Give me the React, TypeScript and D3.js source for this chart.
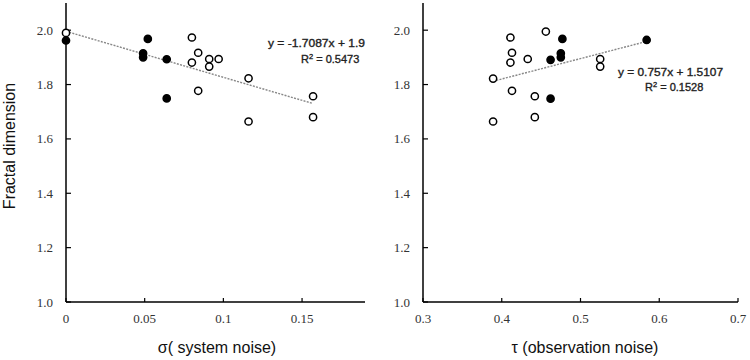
import React from "react";
import * as d3 from "d3";

// Fractal dimension of each run against the two noise parameters.
// Filled markers and open markers are the two groups of runs.
const sigmaX = [0, 0, 0.052, 0.049, 0.049, 0.064, 0.064, 0.08, 0.084, 0.08, 0.091, 0.097, 0.091, 0.084, 0.116, 0.116, 0.157, 0.157];
const sigmaY = [1.99, 1.962, 1.968, 1.915, 1.9, 1.893, 1.749, 1.973, 1.917, 1.881, 1.894, 1.894, 1.866, 1.777, 1.823, 1.664, 1.757, 1.68];
const sigmaFilled = [false, true, true, true, true, true, true, false, false, false, false, false, false, false, false, false, false, false];

const tauX = [0.389, 0.389, 0.411, 0.413, 0.411, 0.433, 0.413, 0.442, 0.442, 0.456, 0.462, 0.462, 0.477, 0.475, 0.475, 0.525, 0.525, 0.584];
const tauY = [1.822, 1.664, 1.973, 1.917, 1.881, 1.894, 1.777, 1.757, 1.68, 1.995, 1.891, 1.748, 1.968, 1.915, 1.9, 1.894, 1.866, 1.964];
const tauFilled = [false, false, false, false, false, false, false, false, false, false, true, true, true, true, true, false, false, true];

const yTicks = [1.0, 1.2, 1.4, 1.6, 1.8, 2.0];
const sigmaTicks = [0, 0.05, 0.1, 0.15];
const tauTicks = [0.3, 0.4, 0.5, 0.6, 0.7];

const sigmaEquation = "y = -1.7087x + 1.9";
const sigmaR2 = "0.5473";
const tauEquation = "y = 0.757x + 1.5107";
const tauR2 = "0.1528";

const yTitle = "Fractal dimension";
const sigmaTitle = "σ( system noise)";
const tauTitle = "τ (observation noise)";

const W = 750;
const H = 360;
const yScale = d3.scaleLinear().domain([1.0, 2.1]).range([302, 3]);

const tickFont = "'Liberation Serif', 'Times New Roman', serif";
const sansFont = "'Liberation Sans', Arial, sans-serif";

function fit(xs: number[], ys: number[]) {
  const mx = d3.mean(xs)!;
  const my = d3.mean(ys)!;
  let sxy = 0;
  let sxx = 0;
  xs.forEach((x, i) => {
    sxy += (x - mx) * (ys[i] - my);
    sxx += (x - mx) * (x - mx);
  });
  const slope = sxy / sxx;
  return { slope, intercept: my - slope * mx };
}

type PanelProps = {
  xs: number[];
  ys: number[];
  filled: boolean[];
  xDomain: [number, number];
  xRange: [number, number];
  xTicks: number[];
  tickFmt: (v: number) => string;
  title: string;
  titleX: number;
  eq: string;
  r2: string;
  eqPos: { x1: number; y1: number; w1: number; x2: number; y2: number };
};

function Panel(p: PanelProps) {
  const x = d3.scaleLinear().domain(p.xDomain).range(p.xRange);
  const x0 = p.xRange[0];
  const { slope, intercept } = fit(p.xs, p.ys);
  const [minX, maxX] = d3.extent(p.xs) as [number, number];
  const trend = d3.line<number>()
    .x((v) => x(v))
    .y((v) => yScale(intercept + slope * v))([minX, maxX]);
  const yBase = yScale(1.0);
  return (
    <g>
      {/* axes */}
      <line x1={x0} x2={x0} y1={3} y2={yBase} stroke="#000" strokeWidth={1.5} />
      <line x1={x0} x2={p.xRange[1]} y1={yBase} y2={yBase} stroke="#000" strokeWidth={1.5} />
      {yTicks.map((t) => (
        <g key={"y" + t}>
          <line x1={x0} x2={x0 + 5} y1={yScale(t)} y2={yScale(t)} stroke="#000" strokeWidth={1.2} />
          <text x={x0 - 13} y={yScale(t) + 4.5} textAnchor="end" fontFamily={tickFont} fontSize={13} fill="#333">
            {t.toFixed(1)}
          </text>
        </g>
      ))}
      {p.xTicks.map((t) => (
        <g key={"x" + t}>
          <line x1={x(t)} x2={x(t)} y1={yBase} y2={yBase - 4} stroke="#000" strokeWidth={1.2} />
          <text x={x(t)} y={yBase + 21} textAnchor="middle" fontFamily={tickFont} fontSize={13} fill="#333">
            {p.tickFmt(t)}
          </text>
        </g>
      ))}
      {/* linear trend line */}
      <path d={trend ?? ""} stroke="#888" strokeWidth={1.4} strokeDasharray="2,1.3" fill="none" />
      {/* runs */}
      {p.xs.map((v, i) => (
        <circle
          key={i}
          cx={x(v)}
          cy={yScale(p.ys[i])}
          r={3.6}
          fill={p.filled[i] ? "#000" : "#fff"}
          stroke="#000"
          strokeWidth={1.5}
        />
      ))}
      {/* trend equation */}
      <text x={p.eqPos.x1} y={p.eqPos.y1} fontFamily={sansFont} fontSize={11} fill="#222"
        stroke="#222" strokeWidth={0.35}
        textLength={p.eqPos.w1} lengthAdjust="spacingAndGlyphs">
        {p.eq}
      </text>
      <text x={p.eqPos.x2} y={p.eqPos.y2} fontFamily={sansFont} fontSize={11} fill="#222"
        stroke="#222" strokeWidth={0.35}>
        <tspan>R</tspan>
        <tspan dy={-4} fontSize={7.5}>2</tspan>
        <tspan dy={4}>{" = " + p.r2}</tspan>
      </text>
      <text x={p.titleX} y={353} textAnchor="middle" fontFamily={sansFont} fontSize={16} fill="#111">
        {p.title}
      </text>
    </g>
  );
}

export default function App() {
  const sigmaFmt = (v: number) => (v === 0 ? "0" : String(v));
  const tauFmt = (v: number) => v.toFixed(1);
  return (
    <svg width={W} height={H} style={{ display: "block", position: "absolute", left: 0, top: 0, background: "#fff" }}>
      <rect width={W} height={H} fill="#fff" />
      <text
        transform="translate(15,146) rotate(-90)"
        textAnchor="middle"
        fontFamily={sansFont}
        fontSize={16}
        fill="#111"
      >
        {yTitle}
      </text>
      <Panel
        xs={sigmaX}
        ys={sigmaY}
        filled={sigmaFilled}
        xDomain={[0, 0.19]}
        xRange={[66, 365]}
        xTicks={sigmaTicks}
        tickFmt={sigmaFmt}
        title={sigmaTitle}
        titleX={217}
        eq={sigmaEquation}
        r2={sigmaR2}
        eqPos={{ x1: 268, y1: 47, w1: 97, x2: 301, y2: 63 }}
      />
      <Panel
        xs={tauX}
        ys={tauY}
        filled={tauFilled}
        xDomain={[0.3, 0.7]}
        xRange={[423, 738]}
        xTicks={tauTicks}
        tickFmt={tauFmt}
        title={tauTitle}
        titleX={585}
        eq={tauEquation}
        r2={tauR2}
        eqPos={{ x1: 618, y1: 76, w1: 105, x2: 645, y2: 91 }}
      />
    </svg>
  );
}
